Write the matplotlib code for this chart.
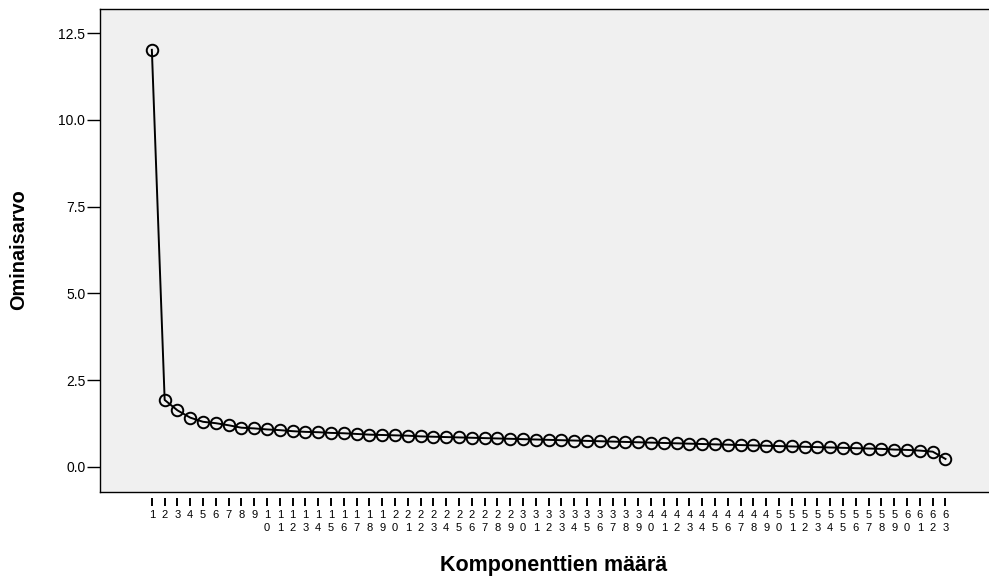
import matplotlib
matplotlib.use("Agg")
import matplotlib.pyplot as plt

components = list(range(1, 64))
eigenvalues = [12.02, 1.93, 1.63, 1.42, 1.30, 1.26, 1.20, 1.13, 1.11, 1.08,
               1.06, 1.03, 1.01, 1.00, 0.98, 0.97, 0.95, 0.93, 0.92, 0.91,
               0.90, 0.88, 0.87, 0.86, 0.85, 0.84, 0.83, 0.82, 0.81, 0.80,
               0.79, 0.78, 0.77, 0.76, 0.75, 0.74, 0.73, 0.72, 0.71, 0.70,
               0.69, 0.68, 0.67, 0.66, 0.65, 0.64, 0.63, 0.62, 0.61, 0.60,
               0.59, 0.58, 0.57, 0.56, 0.55, 0.54, 0.53, 0.52, 0.50, 0.49,
               0.47, 0.44, 0.23]
tick_labels = ["\n".join(str(c)) for c in components]
y_ticks = [0.0, 2.5, 5.0, 7.5, 10.0, 12.5]

plt.rcParams['font.family'] = ['Liberation Sans', 'DejaVu Sans']

fig = plt.figure(figsize=(9.89, 5.76), dpi=100)
ax = fig.add_axes([0.101, 0.146, 0.899, 0.838])
ax.set_facecolor('#f0f0f0')

ax.plot(components, eigenvalues, color='black', lw=1.4, marker='o',
        markersize=8.3, markerfacecolor='none', markeredgecolor='black',
        markeredgewidth=1.4)

ax.set_xlim(-3.06, 66.4)
ax.set_ylim(-0.72, 13.19)
ax.set_yticks(y_ticks)
ax.set_yticklabels([f"{t:.1f}" for t in y_ticks], fontsize=10)
ax.tick_params(axis='y', direction='out', length=9.5, width=1, pad=1)

for s in ['left', 'top', 'bottom']:
    ax.spines[s].set_linewidth(1.0)
ax.spines['right'].set_visible(False)

ax.set_xticks([])
sec = ax.secondary_xaxis(-0.012)
sec.spines['bottom'].set_visible(False)
sec.set_xticks(components)
sec.set_xticklabels(tick_labels, fontsize=8, linespacing=1.35)
sec.tick_params(axis='x', direction='out', length=6, width=1.4, pad=3)

fig.text(0.019, 0.566, 'Ominaisarvo', fontsize=14.3, fontweight='bold',
         rotation=90, ha='center', va='center')
fig.text(0.56, 0.009, 'Komponenttien määrä', fontsize=15.5, fontweight='bold',
         ha='center', va='baseline')

fig.savefig('out.png', dpi=100)
